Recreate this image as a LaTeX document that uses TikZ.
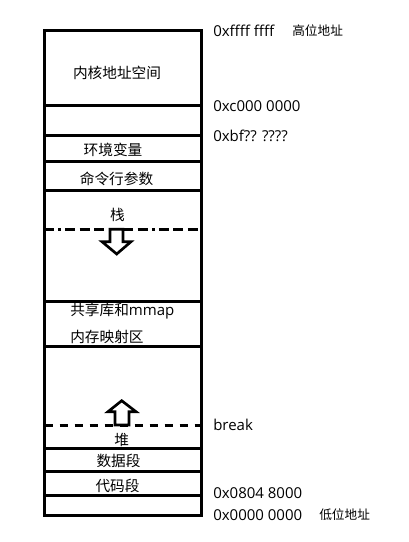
\documentclass[tikz,border=0pt]{standalone}
\usepackage{fontspec}
\setmainfont{Open Sans}
\newfontfamily\cjk{Noto Sans CJK SC}
\begin{document}
\begin{tikzpicture}[x=0.75pt,y=0.75pt]

  \tikzset{every node/.style={inner sep=0pt, font=\fontsize{11.25}{13}\selectfont},
    seg/.style={black, line width=2.25pt},
    stackline/.style={black, line width=2.25pt,
      dash pattern=on 7.5pt off 3.35pt on 7.5pt off 3.35pt on 7.5pt off 3.35pt
        on 7.5pt off 3.35pt on 7.5pt off 3.35pt on 7.5pt off 3.35pt on 2.25pt off 3pt,
      dash phase=55pt},
    breakline/.style={black, line width=2.25pt, dash pattern=on 6.25pt off 5pt},
    blockarrow/.style={black, line width=2pt, fill=white, line join=miter},
    zh/.style={font=\cjk\fontsize{11}{13}\selectfont},
    tag/.style={anchor=west, font=\cjk\fontsize{9.5}{11}\selectfont},
    addr/.style={anchor=west}}
  \useasboundingbox (0,0) rectangle (409,-542);

  % outline and segments
  \draw [seg] (44.7,-31) rectangle (201,-515);
  \foreach \y in {105.7,135.7,161.7,190.3,301,346,448.3,471,495}
    \draw [seg] (44.7,-\y) -- (201,-\y);
  \draw [stackline] (44.7,-229.3) -- (201,-229.3);
  \draw [breakline] (44.7,-425) -- (201,-425);

  % growth arrows
  \draw [blockarrow] (110,-229.3) -- (123,-229.3) -- (123,-241.7) -- (131,-241.7)
    -- (116.7,-254) -- (102,-241.7) -- (110,-241.7) -- cycle;
  \draw [blockarrow] (115,-425) -- (115,-411.7) -- (108,-411.7) -- (121.7,-400.7)
    -- (136,-411.7) -- (129,-411.7) -- (129,-425) -- cycle;

  % segment names
  \node [zh] (kernel) at (117,-73.3) {内核地址空间};
  \node [zh] (env) at (113,-150) {环境变量};
  \node [zh] (args) at (116.5,-179.3) {命令行参数};
  \node [zh] (stack) at (117.5,-215) {栈};
  \node [zh, anchor=west] (shlib) at (70,-311) {共享库和{\rmfamily\fontsize{11.25}{13}\selectfont mmap}};
  \node [zh, anchor=west] (mmap) at (70,-336.7) {内存映射区};
  \node [zh] (heap) at (121.7,-440) {堆};
  \node [zh] (data) at (118.5,-460.7) {数据段};
  \node [zh] (text) at (117.5,-486) {代码段};

  % addresses
  \node [addr] (top) at (213,-31) {0xffff ffff};
  \node [tag] (high) at (292,-31) {高位地址};
  \node [addr] (kbase) at (213,-105.7) {0xc000 0000};
  \node [addr] (sbase) at (213,-135.7) {0xbf?? ????};
  \node [addr] (brk) at (213,-425) {break};
  \node [addr] (tbase) at (213,-492.7) {0x0804 8000};
  \node [addr] (zero) at (213,-515) {0x0000 0000};
  \node [tag] (low) at (319,-515) {低位地址};

\end{tikzpicture}
\end{document}
